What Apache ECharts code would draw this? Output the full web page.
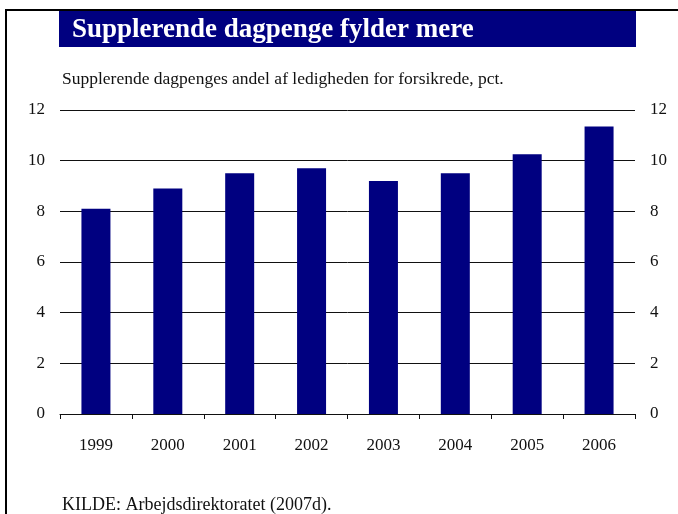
<!DOCTYPE html>
<html>
<head>
<meta charset="utf-8">
<script src="https://cdn.jsdelivr.net/npm/echarts@6/dist/echarts.min.js"></script>
<style>
  html, body { margin: 0; padding: 0; background: #fff; }
  #chart { width: 678px; height: 514px; }
</style>
</head>
<body>
<div id="chart"></div>
<script>
// data
const years = ['1999', '2000', '2001', '2002', '2003', '2004', '2005', '2006']
const shares = [8.1, 8.9, 9.5, 9.7, 9.2, 9.5, 10.25, 11.35]
const yMin = 0
const yMax = 12
const yStep = 2

const serif = '"Liberation Serif", "DejaVu Serif", serif'
const navy = '#000080'

const chart = echarts.init(document.getElementById('chart'))

// y-akse, samme på begge sider
const valueAxis = (pos, grid) => ({
  type: 'value',
  position: pos,
  min: yMin,
  max: yMax,
  interval: yStep,
  axisLine: { show: false },
  axisTick: { show: false },
  axisLabel: { color: '#111', fontFamily: serif, fontSize: 17, margin: 15 },
  splitLine: { show: grid, lineStyle: { color: '#111', width: 1 } },
})

chart.setOption({
  animation: false,
  grid: { left: 60, right: 43, top: 110, bottom: 100 },
  graphic: [
    // ramme top + venstre
    { type: 'rect', shape: { x: 5, y: 9, width: 673, height: 2 }, style: { fill: '#000' } },
    { type: 'rect', shape: { x: 5, y: 9, width: 2, height: 505 }, style: { fill: '#000' } },
    // titelbjælke
    { type: 'rect', shape: { x: 59, y: 11, width: 577, height: 36 }, style: { fill: navy } },
    {
      type: 'text', left: 72, top: 17,
      style: { text: 'Supplerende dagpenge fylder mere', fill: '#fff', font: 'bold 27px ' + serif },
    },
    {
      type: 'text', left: 62, top: 70,
      style: { text: 'Supplerende dagpenges andel af ledigheden for forsikrede, pct.', fill: '#111', font: '17.5px ' + serif },
    },
    {
      type: 'text', left: 62, top: 496,
      style: { text: 'KILDE: Arbejdsdirektoratet (2007d).', fill: '#111', font: '18px ' + serif },
    },
  ],
  xAxis: {
    type: 'category',
    data: years,
    axisLine: { lineStyle: { color: '#111', width: 1 } },
    axisTick: { show: true, length: 5, lineStyle: { color: '#111' } },
    axisLabel: { color: '#111', fontFamily: serif, fontSize: 17, margin: 23 },
  },
  yAxis: [valueAxis('left', true), valueAxis('right', false)],
  series: [
    {
      type: 'bar',
      data: shares,
      barWidth: 29,
      itemStyle: { color: navy },
    },
  ],
})
</script>
</body>
</html>
